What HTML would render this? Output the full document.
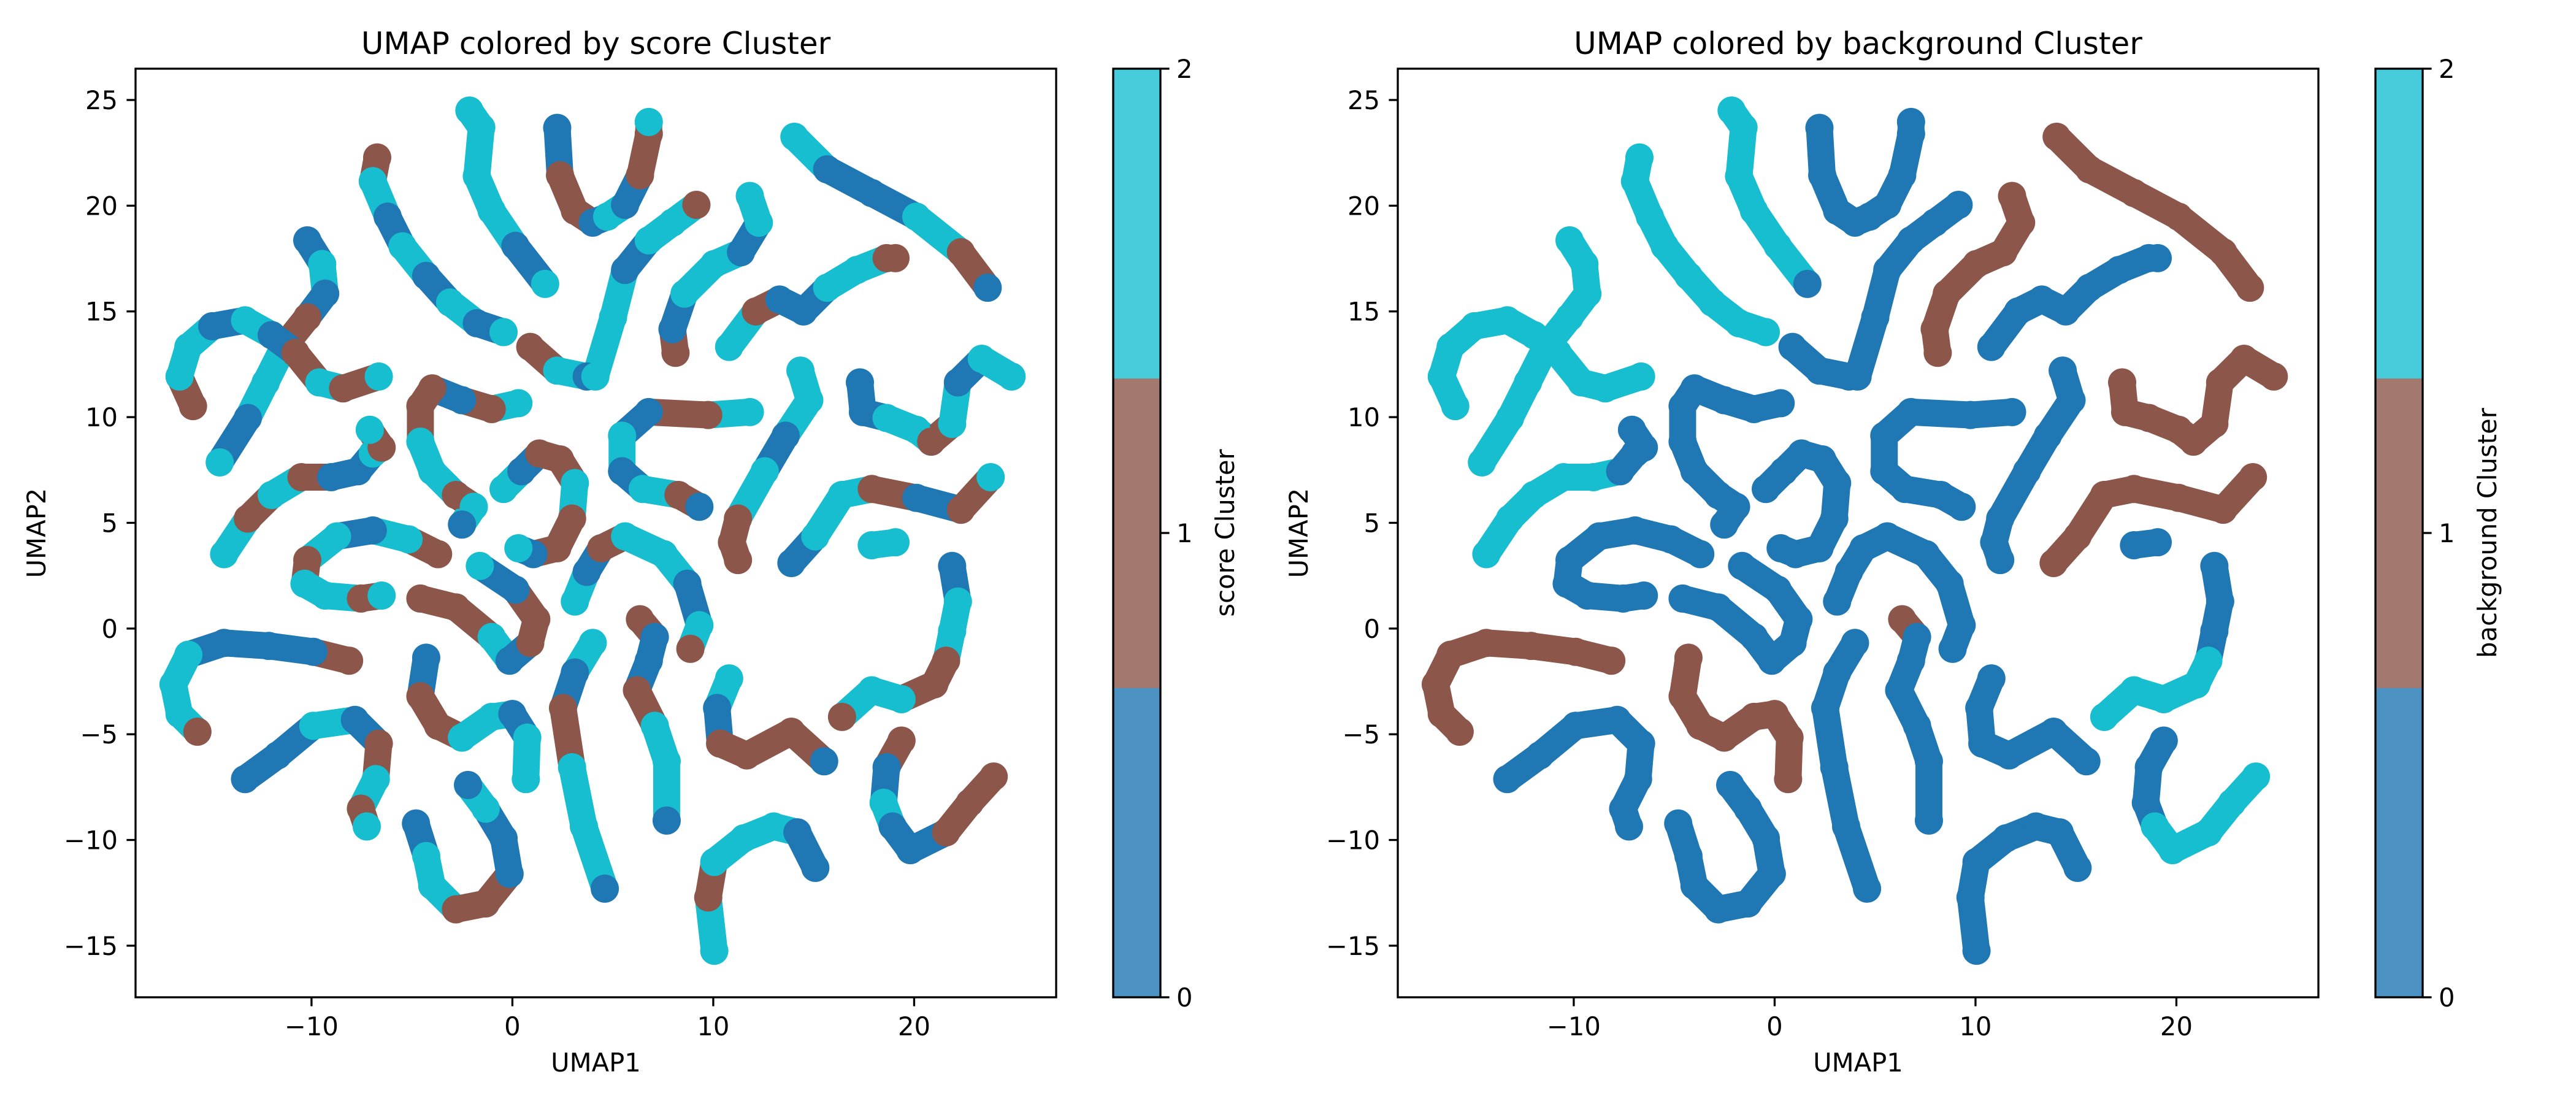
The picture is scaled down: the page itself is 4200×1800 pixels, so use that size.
<!DOCTYPE html>
<html><head><meta charset="utf-8"><style>
html,body{margin:0;padding:0;background:#fff;}
svg{display:block;font-family:"DejaVu Sans","Liberation Sans",sans-serif;}
</style></head><body>
<svg id="fig" width="4200" height="1800" viewBox="0 0 4200 1800" xmlns="http://www.w3.org/2000/svg">
<rect width="4200" height="1800" fill="#fff"/>
</svg>
<script>
const wormXs = [
[-2.14,-1.55,-1.77,-1.03,0.15,1.63],
[-6.73,-6.95,-6.21,-5.47,-4.29,-3.1,-1.77,-0.44],
[-10.21,-9.47,-9.32,-10.21,-11.39,-12.28,-13.17,-14.57],
[-15.9,-16.57,-16.13,-14.94,-13.31,-11.98,-10.8,-9.61,-8.43,-6.65],
[-14.35,-13.17,-11.98,-10.5,-9.02,-7.69,-6.95,-6.51,-7.1],
[-3.7,-5.17,-6.95,-8.73,-10.21,-10.35,-9.32,-7.54,-6.51],
[-8.13,-9.91,-12.13,-14.35,-16.13,-16.87,-16.57,-15.68],
[-13.31,-11.69,-9.91,-7.84,-6.65,-6.8,-7.54,-7.25],
[0.3,-1.03,-2.51,-3.99,-4.58,-4.58,-3.99,-2.81,-1.92,-2.51],
[-0.44,0.45,1.34,2.37,3.11,2.97,2.23,1.04,0.3],
[-4.58,-2.81,-1.03,-0.14,0.89,1.19,0.15,-1.62],
[-4.29,-4.58,-3.7,-2.51,-1.03,0.0,0.74,0.67],
[-4.8,-4.29,-3.99,-2.81,-1.33,-0.14,-0.44,-1.33,-2.21],
[2.23,2.37,3.11,4.0,4.72,5.61,6.35,6.79,6.79],
[0.89,2.23,3.7,4.13,5.01,5.61,6.79,7.97,9.16],
[8.12,7.97,8.57,10.05,11.38,12.27,11.82],
[10.79,12.12,13.3,14.49,15.67,17.15,18.63,19.07],
[14.04,15.67,17.89,20.11,22.33,23.66],
[11.82,9.75,6.79,5.46,5.46,6.49,8.27,9.31],
[14.34,14.78,13.6,12.56,11.23,10.93,11.23],
[17.3,17.45,18.63,20.11,20.85,21.89,22.18,23.37,24.85],
[13.89,15.08,16.41,17.89,20.11,22.33,23.81],
[17.89,19.07],
[3.11,3.7,4.42,5.61,7.53,8.71,9.31,8.86],
[6.35,7.09,6.79,6.2,7.09,7.68,7.68],
[4.0,3.11,2.52,2.97,3.56,4.6],
[10.79,10.19,10.34,11.67,13.89,15.52],
[10.05,9.75,10.05,11.53,13.01,14.19,15.08],
[21.89,22.18,21.89,21.59,21.0,19.37,17.89,16.41],
[19.37,18.63,18.48,18.93,19.81,21.59,22.77,23.96]
];
const wormYs = [
[24.5,23.7,21.4,19.76,18.1,16.3],
[22.28,21.16,19.48,18.08,16.68,15.42,14.44,14.02],
[18.36,17.24,15.84,14.72,13.32,11.64,9.96,7.86],
[10.52,11.92,13.32,14.3,14.58,13.88,13.04,11.64,11.36,11.92],
[3.52,5.2,6.32,7.16,7.16,7.44,8.28,8.56,9.4],
[3.52,4.22,4.64,4.36,3.24,2.12,1.56,1.42,1.56],
[-1.52,-1.1,-0.82,-0.68,-1.24,-2.64,-4.04,-4.88],
[-7.12,-6.0,-4.6,-4.32,-5.44,-7.12,-8.52,-9.36],
[10.66,10.38,10.8,11.36,10.52,8.84,7.44,6.32,5.76,4.92],
[6.6,7.44,8.28,8.0,6.88,5.2,3.8,3.52,3.8],
[1.42,1.0,-0.4,-1.52,-0.68,0.44,1.84,2.96],
[-1.38,-3.2,-4.6,-5.16,-4.18,-4.04,-5.16,-7.12],
[-9.22,-10.76,-12.16,-13.28,-13.0,-11.6,-9.92,-8.52,-7.4],
[23.68,21.44,19.76,19.2,19.48,20.04,21.44,23.4,23.96],
[13.32,12.2,11.92,11.92,14.72,16.96,18.36,19.2,20.04],
[13.04,14.16,15.84,17.24,17.8,19.2,20.46],
[13.32,15.0,15.56,15.0,16.12,16.96,17.52,17.52],
[23.26,21.72,20.6,19.48,17.8,16.12],
[10.24,10.1,10.24,9.12,7.44,6.6,6.32,5.76],
[12.2,10.8,9.12,7.44,5.2,4.08,3.24],
[11.64,10.24,9.96,9.4,8.84,9.68,11.64,12.76,11.92],
[3.1,4.36,6.32,6.6,6.18,5.62,7.16],
[3.94,4.08],
[1.28,2.68,3.8,4.36,3.52,2.12,0.16,-0.96],
[0.44,-0.4,-1.52,-2.92,-4.6,-6.28,-9.08],
[-0.68,-2.08,-3.76,-6.56,-9.36,-12.3],
[-2.36,-3.76,-5.44,-6.0,-4.88,-6.28],
[-15.24,-12.72,-11.04,-9.92,-9.36,-9.64,-11.32],
[2.96,1.28,-0.12,-1.52,-2.64,-3.34,-2.92,-4.18],
[-5.3,-6.56,-8.24,-9.36,-10.48,-9.64,-8.24,-7.0]
];
const bgCluster = [
[2,2,2,2,2,0],[2,2,2,2,2,2,2,2],[2,2,2,2,2,2,2,2],[2,2,2,2,2,2,2,2,2,2],
[2,2,2,2,2,0,0,0,0],[0,0,0,0,0,0,0,0,0],[1,1,1,1,1,1,1,1],[0,0,0,0,0,0,0,0],
[0,0,0,0,0,0,0,0,0,0],[0,0,0,0,0,0,0,0,0],[0,0,0,0,0,0,0,0],[1,1,1,1,1,1,1,1],
[0,0,0,0,0,0,0,0,0],[0,0,0,0,0,0,0,0,0],[0,0,0,0,0,0,0,0,0],[1,1,1,1,1,1,1],
[0,0,0,0,0,0,0,0],[1,1,1,1,1,1],[0,0,0,0,0,0,0,0],[0,0,0,0,0,0,0],
[1,1,1,1,1,1,1,1,1],[1,1,1,1,1,1,1],[0,0],[0,0,0,0,0,0,0,0],
[1,0,0,0,0,0,0],[0,0,0,0,0,0],[0,0,0,0,0,0],[0,0,0,0,0,0,0],
[0,0,0,2,2,2,2,2],[0,0,0,2,2,2,2,2]
];
const scoreCluster = [
[2,2,2,2,0,2],[1,2,0,2,0,2,0,2],[0,2,0,1,2,2,0,2],[1,2,2,0,2,0,1,2,1,2],
[2,1,2,1,0,0,2,1,2],[1,2,0,2,1,2,2,1,2],[1,0,0,0,2,2,2,1],[0,0,2,0,1,2,1,2],
[2,1,0,1,1,2,2,1,2,0],[2,0,1,1,2,1,1,0,2],[1,1,2,0,1,1,0,2],[0,1,1,2,2,0,2,2],
[0,2,2,1,1,0,0,2,0],[0,1,1,0,2,0,1,1,2],[1,2,0,2,2,0,2,2,1],[1,0,2,2,0,2,2],
[2,1,0,0,2,2,1,1],[2,0,0,2,1,0],[2,1,0,2,0,2,1,0],[2,2,0,2,1,1,1],
[0,0,2,2,1,2,0,2,2],[0,2,2,1,0,1,2],[2,2],[2,0,1,2,2,0,2,1],
[1,0,0,1,2,2,0],[2,0,1,2,2,0],[2,0,1,1,1,0],[2,1,2,2,2,0,0],
[0,2,2,1,1,2,2,1],[1,0,2,0,0,1,1,1]
];
const xTicks = [-10,0,10,20];
const yTicks = [-15,-10,-5,0,5,10,15,20,25];
const cbarTicks = [0,1,2];
const xDomain = [-18.76, 27.07];
const yDomain = [-17.44, 26.48];

const NS = "http://www.w3.org/2000/svg";
const svg = document.getElementById('fig');
const colors = ['#1f77b4','#8c564b','#17becf'];
const cbColors = ['#4b92c3','#a3786f','#45cbd9'];
const AX_T = 112, AX_B = 1626, AX_W = 1501;
function mk(tag, attrs, parent){const e=document.createElementNS(NS,tag);for(const k in attrs)e.setAttribute(k,attrs[k]);(parent||svg).appendChild(e);return e;}

function panel(left, cbLeft, clusters, title, cbLabel, key){
  const sx = v => left + (v - xDomain[0]) / (xDomain[1]-xDomain[0]) * AX_W;
  const sy = v => AX_B - (v - yDomain[0]) / (yDomain[1]-yDomain[0]) * (AX_B-AX_T);
  const g = mk('g',{});
  
  
  const marks = mk('g',{},g);
  
  
  for(let w=0; w<wormXs.length; w++){
    const xs=wormXs[w], ys=wormYs[w], cl=clusters[w];
    for(let i=0;i<xs.length-1;i++){
      const ln = mk('line',{x1:sx(xs[i]),y1:sy(ys[i]),x2:sx(xs[i+1]),y2:sy(ys[i+1]),stroke:colors[cl[i]],'stroke-width':44,'stroke-linecap':'round'},marks);
      
      
    }
    for(let i=0;i<xs.length;i++){
      const c = mk('circle',{cx:sx(xs[i]),cy:sy(ys[i]),r:23,fill:colors[cl[i]]},marks);
      
      
    }
  }
  const frame = mk('rect',{x:left,y:AX_T,width:AX_W,height:AX_B-AX_T,fill:'none',stroke:'#000','stroke-width':3.3},g);
  
  
  xTicks.forEach(t=>{
    const x=sx(t);
    const tk=mk('line',{x1:x,y1:AX_B,x2:x,y2:AX_B+14.6,stroke:'#000','stroke-width':3.3},g);
    
    
    const tx=mk('text',{x:x,y:1688,'font-size':41.7,'text-anchor':'middle'},g);
    tx.textContent = t<0 ? '\u2212'+Math.abs(t) : String(t);
    
    
  });
  yTicks.forEach(t=>{
    const y=sy(t);
    const tk=mk('line',{x1:left-14.6,y1:y,x2:left,y2:y,stroke:'#000','stroke-width':3.3},g);
    
    
    const tx=mk('text',{x:left-29,y:y+15,'font-size':41.7,'text-anchor':'end'},g);
    tx.textContent = t<0 ? '\u2212'+Math.abs(t) : String(t);
    
    
  });
  const ti=mk('text',{x:left+AX_W/2,y:88,'font-size':50,'text-anchor':'middle'},g);
  ti.textContent=title;
  
  
  const xl=mk('text',{x:left+AX_W/2,y:1747,'font-size':41.7,'text-anchor':'middle'},g);
  xl.textContent='UMAP1';
  
  
  const yl=mk('text',{x:0,y:0,'font-size':41.7,'text-anchor':'middle',transform:`translate(${left-147},${(AX_T+AX_B)/2}) rotate(-90)`},g);
  yl.textContent='UMAP2';
  
  
  const cbW = 77, H = AX_B-AX_T;
  const cb = mk('g',{},g);
  
  
  const cy = v => AX_B - v/2*H;
  for(let k=0;k<3;k++){
    const r=mk('rect',{x:cbLeft,y:AX_T+H*(2-k)/3,width:cbW,height:H/3+0.5,fill:cbColors[k]},cb);
    
    
  }
  mk('rect',{x:cbLeft,y:AX_T,width:cbW,height:H,fill:'none',stroke:'#000','stroke-width':3.3},cb);
  cbarTicks.forEach(t=>{
    const y=cy(t);
    const tk=mk('line',{x1:cbLeft+cbW,y1:y,x2:cbLeft+cbW+14.6,y2:y,stroke:'#000','stroke-width':3.3},cb);
    
    
    const tx=mk('text',{x:cbLeft+cbW+26,y:y+15,'font-size':41.7},cb);
    tx.textContent=String(t);
    
    
  });
  const cl=mk('text',{x:0,y:0,'font-size':41.7,'text-anchor':'middle',transform:`translate(${cbLeft+cbW+120},${(AX_T+AX_B)/2}) rotate(-90)`},cb);
  cl.textContent=cbLabel;
  
  
}
panel(221, 1815, scoreCluster, 'UMAP colored by score Cluster', 'score Cluster', 'score');
panel(2279, 3873, bgCluster, 'UMAP colored by background Cluster', 'background Cluster', 'background');
</script>
</body></html>
